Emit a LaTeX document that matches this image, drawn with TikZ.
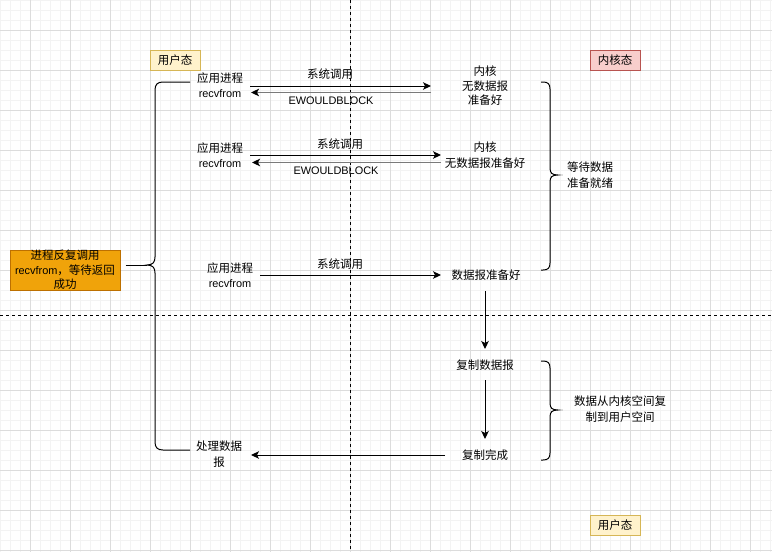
\documentclass[tikz,border=0pt]{standalone}
\usepackage{fontspec}
\setmainfont{Noto Sans CJK SC}
\newfontfamily\lat[Scale=0.95]{Liberation Sans}
\usetikzlibrary{arrows.meta}
\definecolor{gridminor}{HTML}{F3F3F3}
\definecolor{gridmajor}{HTML}{DCDCDC}
\definecolor{orangef}{HTML}{F0A30A}
\definecolor{oranged}{HTML}{BD7000}
\definecolor{yellowf}{HTML}{FFF2CC}
\definecolor{yellowd}{HTML}{D6B656}
\definecolor{redf}{HTML}{F8CECC}
\definecolor{redd}{HTML}{B85450}
\definecolor{retc}{HTML}{7A7A7A}
\tikzset{
  txt/.style={align=center,font=\fontsize{11.5}{15.5}\selectfont,inner sep=1pt},
  arr/.style={line width=1pt,-{Stealth[length=8pt,width=7.5pt,inset=2pt]}},
  retarr/.style={line width=1.8pt,draw=retc,-{Stealth[length=8pt,width=7.5pt,inset=2pt,color=black]}},
  flat/.style={line width=1pt},
  divider/.style={line width=1pt,dash pattern=on 3pt off 3pt},
  tag/.style={draw,line width=1pt,minimum width=50pt,minimum height=20pt,inner sep=0pt,font=\fontsize{11.5}{14}\selectfont}
}
\begin{document}
\begin{tikzpicture}[x=1pt,y=-1pt]
\useasboundingbox (0,0) rectangle (772,552);
\fill[white] (0,0) rectangle (772,552);
\foreach \x in {0,10,...,770} \draw[gridminor,line width=1pt] (\x,0) -- (\x,552);
\foreach \y in {0,10,...,550} \draw[gridminor,line width=1pt] (0,\y) -- (772,\y);
\foreach \x in {30,70,...,750} \draw[gridmajor,line width=1pt] (\x,0) -- (\x,552);
\foreach \y in {30,70,...,550} \draw[gridmajor,line width=1pt] (0,\y) -- (772,\y);

% dividers
\coordinate (vtop) at (350,0); \coordinate (vbot) at (350,552);
\coordinate (hl) at (0,315); \coordinate (hr) at (772,315);
\draw[divider] (vtop) -- (vbot);
\draw[divider] (hl) -- (hr);

% tags
\node[tag,fill=yellowf,draw=yellowd] (userTop) at (175,60) {用户态};
\node[tag,fill=redf,draw=redd] (kernTag) at (615,60) {内核态};
\node[tag,fill=yellowf,draw=yellowd] (userBot) at (615,525) {用户态};

% orange box
\node[draw=oranged,fill=orangef,line width=1pt,minimum width=110pt,minimum height=40pt,inner sep=0pt,align=center,font=\fontsize{11.5}{14.5}\selectfont] (proc) at (65,270) {进程反复调用\\{\lat recvfrom}，等待返回\\成功};

% row 1
\node[txt] (app1) at (220,85) {应用进程\\{\lat recvfrom}};
\node[txt,font=\fontsize{11.5}{14.5}\selectfont] (kern1) at (485,86) {内核\\无数据报\\准备好};
\coordinate (r1a) at (250,86); \coordinate (r1b) at (431,86);
\coordinate (l1a) at (431,92.5); \coordinate (l1b) at (251,92.5);
\draw[arr] (r1a) -- (r1b);
\draw[retarr] (l1a) -- (l1b);
\node[txt] (sc1) at (330,74) {系统调用};
\node[txt] (ew1) at (331,101) {\lat EWOULDBLOCK};

% row 2
\node[txt] (app2) at (220,155) {应用进程\\{\lat recvfrom}};
\node[txt] (kern2) at (485,155) {内核\\无数据报准备好};
\coordinate (r2a) at (250,155); \coordinate (r2b) at (441,155);
\coordinate (l2a) at (441,162.5); \coordinate (l2b) at (252,162.5);
\draw[arr] (r2a) -- (r2b);
\draw[retarr] (l2a) -- (l2b);
\node[txt] (sc2) at (340,144) {系统调用};
\node[txt] (ew2) at (336,171) {\lat EWOULDBLOCK};

% row 3
\node[txt] (app3) at (230,275) {应用进程\\{\lat recvfrom}};
\node[txt] (ready) at (486,275) {数据报准备好};
\coordinate (r3a) at (260,275); \coordinate (r3b) at (441,275);
\draw[arr] (r3a) -- (r3b);
\node[txt] (sc3) at (340,264) {系统调用};

% copy chain
\node[txt] (copy) at (485,365) {复制数据报};
\node[txt] (done) at (485,455) {复制完成};
\node[txt] (handle) at (219,454) {处理数据\\报};
\coordinate (d1a) at (485,291); \coordinate (d1b) at (485,349);
\coordinate (d2a) at (485,380); \coordinate (d2b) at (485,439);
\coordinate (la) at (445,455); \coordinate (lb) at (251,455);
\draw[arr] (d1a) -- (d1b);
\draw[arr] (d2a) -- (d2b);
\draw[arr] (la) -- (lb);

% left brace
\coordinate (ltip) at (147,265);
\draw[flat] (190,82) -- (163,82) .. controls (157.5,82) and (155,84.5) .. (155,90)
  -- (155,257) .. controls (155,262) and (153,265) .. (ltip)
  .. controls (153,265) and (155,268) .. (155,273)
  -- (155,442) .. controls (155,447.5) and (157.5,450) .. (163,450) -- (190,450);
\draw[flat] ([xshift=5pt]proc.east |- ltip) -- (ltip);

% right brace 1
\coordinate (rtip1) at (558,175);
\draw[flat] (541,82) -- (543,82) .. controls (548,82) and (550,84) .. (550,89)
  -- (550,168) .. controls (550,173) and (552,175) .. (rtip1)
  .. controls (552,175) and (550,177) .. (550,182)
  -- (550,263) .. controls (550,268) and (548,270) .. (543,270) -- (541,270);
\node[txt] (wait) at (590,175) {等待数据\\准备就绪};

% right brace 2
\coordinate (rtip2) at (558,410);
\draw[flat] (541,361) -- (543,361) .. controls (548,361) and (550,363) .. (550,368)
  -- (550,403) .. controls (550,408) and (552,410) .. (rtip2)
  .. controls (552,410) and (550,412) .. (550,417)
  -- (550,453) .. controls (550,458) and (548,460) .. (543,460) -- (541,460);
\node[txt] (copyLbl) at (620,409) {数据从内核空间复\\制到用户空间};
\end{tikzpicture}
\end{document}
